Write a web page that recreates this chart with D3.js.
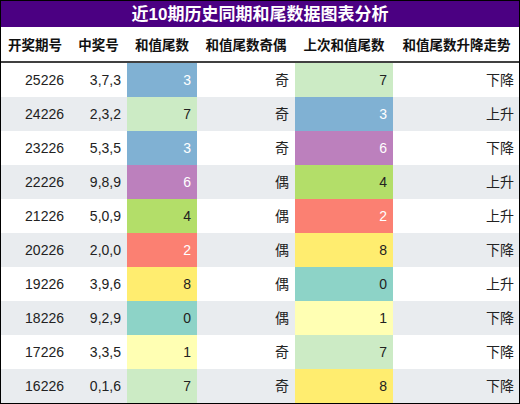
<!DOCTYPE html>
<html><head><meta charset="utf-8">
<script src="https://cdn.jsdelivr.net/npm/d3@7"></script>
<style>body{margin:0;background:#fff}</style>
</head><body>
<svg id="c" width="520" height="404"></svg>
<script>
var headers = ['开奖期号','中奖号','和值尾数','和值尾数奇偶','上次和值尾数','和值尾数升降走势']
var periods = ['25226','24226','23226','22226','21226','20226','19226','18226','17226','16226']
var numbers = ['3,7,3','2,3,2','5,3,5','9,8,9','5,0,9','2,0,0','3,9,6','9,2,9','3,3,5','0,1,6']
var tails = [3,7,3,6,4,2,8,0,1,7]
var parity = ['奇','奇','奇','偶','偶','偶','偶','偶','奇','奇']
var prevTails = [7,3,6,4,2,8,0,1,7,8]
var trend = ['下降','上升','下降','上升','上升','下降','上升','下降','下降','下降']

var digitColor = {0:'#8dd3c7',1:'#ffffb3',2:'#fb8072',3:'#80b1d3',4:'#b3de69',6:'#bc80bd',7:'#ccebc5',8:'#ffed6f'}
var whiteText = {2:1,3:1,6:1}

var svg = d3.select('#c')
var font = '"Liberation Sans", "Noto Sans CJK SC", sans-serif'
var colEdges = [0,70,127,197,295,393,520]
var tableTop = 63, rowH = 34

var y = d3.scaleBand().domain(d3.range(periods.length)).range([tableTop, tableTop + rowH*periods.length])

svg.append('rect').attr('x',0).attr('y',0).attr('width',520).attr('height',27).attr('fill','#4b0082')
svg.append('text').attr('x',260).attr('y',20).attr('text-anchor','middle').attr('fill','#fff')
  .attr('font-family',font).attr('font-weight','bold').attr('font-size',17).text('近10期历史同期和尾数据图表分析')

headers.forEach(function(h,i){
  svg.append('text').attr('x',(colEdges[i]+colEdges[i+1])/2).attr('y',50).attr('text-anchor','middle')
    .attr('font-family',font).attr('font-weight','bold').attr('font-size',13.5).attr('fill','#111').text(h)
})
svg.append('line').attr('x1',0).attr('x2',520).attr('y1',62).attr('y2',62).attr('stroke','#000').attr('stroke-width',1.5)

var rows = svg.selectAll('g.row').data(periods).enter().append('g').attr('class','row')
  .attr('transform',function(d,i){return 'translate(0,'+y(i)+')'})

rows.append('rect').attr('width',520).attr('height',rowH).attr('fill',function(d,i){return i%2 ? '#e9ecef' : '#fff'})

rows.each(function(d,i){
  var g = d3.select(this)
  var cells = [periods[i], numbers[i], tails[i], parity[i], prevTails[i], trend[i]]
  ;[2,4].forEach(function(c){
    g.append('rect').attr('x',colEdges[c]).attr('width',colEdges[c+1]-colEdges[c]).attr('height',rowH)
      .attr('fill',digitColor[cells[c]])
  })
  cells.forEach(function(v,c){
    var col = '#222'
    if ((c==2||c==4) && whiteText[v]) col = '#fff'
    g.append('text').attr('x',colEdges[c+1]-6).attr('y',rowH/2+5).attr('text-anchor','end')
      .attr('font-family',font).attr('font-size',14).attr('fill',col).text(v)
  })
})

svg.append('rect').attr('x',0.5).attr('y',0.5).attr('width',519).attr('height',403)
  .attr('fill','none').attr('stroke','#000').attr('stroke-width',1)
</script>
</body></html>
